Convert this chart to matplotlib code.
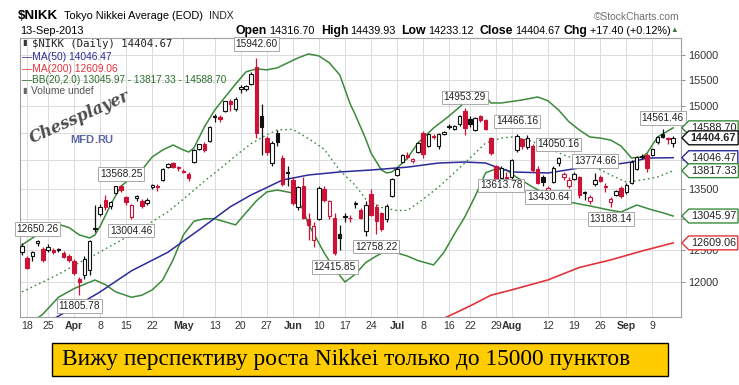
import numpy as np
import pandas as pd
import matplotlib
matplotlib.use("Agg")
import matplotlib.pyplot as plt
from matplotlib.path import Path
from matplotlib.patches import Rectangle
from matplotlib.ticker import FixedLocator, FixedFormatter, NullLocator

plt.rcParams["font.family"] = ["Liberation Sans", "DejaVu Sans"]

# --- data -------------------------------------------------------------------
# Tokyo trading days, Mar 15 .. Sep 13 2013 (exchange holidays left out)
holidays = ["2013-03-20", "2013-04-29", "2013-05-03", "2013-05-06", "2013-07-15"]
days = pd.bdate_range("2013-03-15", "2013-09-13", freq="C", holidays=holidays)

opens = [12460, 12370, 12400, 12600, 12510, 12490, 12490, 12500, 12450, 12400,
         12330, 12050, 12110, 12180, 12850, 13080, 13310, 13210, 13440, 13560,
         13360, 13030, 13340, 13290, 13260, 13540, 13560, 13650, 13880, 13950,
         13880, 13820, 13760, 13970, 14210, 14300, 14350, 14800, 14790, 14900,
         15100, 14950, 15320, 15330, 15430, 15750, 14800, 14400, 13950, 14500,
         14050, 13800, 13650, 13200, 13550, 13000, 12650, 13000, 13500, 13050,
         13020, 12750, 13050, 13020, 13260, 13150, 12800, 13420, 13200, 13090,
         12990, 13380, 13750, 13970, 14100, 13990, 14150, 14500, 14250, 14440,
         14250, 14480, 14620, 14560, 14650, 14900, 14750, 14550, 14800, 14740,
         14400, 13900, 13690, 13700, 13700, 14180, 14380, 14230, 14250, 13850,
         13700, 13480, 13620, 13950, 13700, 13550, 13680, 13700, 13450, 13300,
         13580, 13700, 13560, 13280, 13400, 13520, 13450, 13600, 13850, 14080,
         14100, 14100, 14320, 14480, 14400, 14316.70]
highs = [12600, 12400, 12480, 12650.26, 12540, 12590, 12520, 12520, 12480, 12430,
         12360, 12080, 12400, 12650, 13225, 13250, 13390, 13300, 13560, 13568.25,
         13380, 13240, 13400, 13330, 13350, 13590, 13580, 13860, 13950, 13970,
         13900, 13840, 13790, 14200, 14300, 14330, 14630, 14850, 14830, 15100,
         15130, 15160, 15400, 15400, 15650, 15942.60, 15030, 14440, 14350, 14550,
         14100, 13900, 13700, 13560, 13710, 13100, 12950, 13550, 13560, 13320,
         13100, 12900, 13100, 13060, 13300, 13180, 13300, 13500, 13240, 13120,
         13250, 13690, 13880, 14110, 14150, 14040, 14320, 14530, 14500, 14470,
         14490, 14530, 14650, 14640, 14820, 14953.29, 14800, 14790, 14820, 14760,
         14420, 13920, 13900, 13800, 14020, 14466.16, 14400, 14450, 14300, 13900,
         13750, 13560, 13900, 14050.16, 13800, 13700, 13800, 13720, 13470, 13400,
         13774.66, 13740, 13600, 13360, 13480, 13560, 13600, 14000, 14080, 14120,
         14130, 14220, 14430, 14561.46, 14420, 14439.93]
lows = [12420, 12200, 12330, 12560, 12300, 12460, 12440, 12460, 12370, 12300,
        12110, 11805.78, 12050, 12100, 12790, 13040, 13150, 13170, 13420, 13450,
        13230, 13004.46, 13300, 13180, 13230, 13500, 13470, 13630, 13860, 13860,
        13820, 13770, 13640, 13960, 14180, 14150, 14330, 14700, 14700, 14880,
        14900, 14900, 15250, 15280, 15400, 14400, 14100, 14100, 13900, 14250,
        13550, 13550, 13230, 13150, 13000, 12650, 12548, 12980, 13280, 13000,
        12415.85, 12500, 12950, 12950, 13180, 12990, 12720, 13040, 12758.22, 12800,
        12940, 13360, 13720, 13950, 14020, 13960, 14130, 14050, 14230, 14380,
        14200, 14460, 14560, 14540, 14630, 14450, 14600, 14530, 14700, 14540,
        14100, 13650, 13613.78, 13640, 13680, 14150, 14200, 14200, 13800, 13580,
        13550, 13430.64, 13600, 13900, 13650, 13520, 13650, 13350, 13320, 13250,
        13560, 13620, 13450, 13188.14, 13380, 13350, 13420, 13580, 13830, 14020,
        13800, 14080, 14300, 14400, 14300, 14233.12]
closes = [12561, 12221, 12468, 12636, 12339, 12546, 12472, 12494, 12390, 12336,
          12135, 12003, 12362, 12635, 12834, 13193, 13192, 13288, 13549, 13485,
          13276, 13221, 13383, 13220, 13316, 13568, 13530, 13843, 13926, 13884,
          13861, 13799, 13694, 14180, 14286, 14191, 14608, 14782, 14758, 15096,
          15037, 15138, 15361, 15381, 15627, 14484, 14612, 14143, 14312, 14326,
          13589, 13775, 13262, 13534, 13015, 12904, 12877, 13514, 13318, 13289,
          12445, 12686, 13033, 13007, 13245, 13015, 13230, 13063, 12969, 12834,
          13214, 13677, 13852, 14099, 14055, 14019, 14310, 14109, 14473, 14417,
          14473, 14506, 14599, 14615, 14808, 14590, 14658, 14779, 14731, 14563,
          14130, 13661, 13870, 13668, 14006, 14440, 14258, 14401, 13825, 13606,
          13615, 13519, 13869, 14040, 13753, 13650, 13758, 13396, 13424, 13365,
          13661, 13636, 13542, 13338, 13459, 13389, 13573, 13978, 14054, 14065,
          13861, 14205, 14423, 14425, 14387, 14404.67]

# Bollinger bands (20,2.0)
bb_up_dates = ["03-15", "03-19", "03-25", "03-27", "03-29", "04-02", "04-04", "04-05",
               "04-08", "04-10", "04-12", "04-16", "04-18", "04-22", "04-24", "04-26",
               "05-01", "05-02", "05-07", "05-09", "05-13", "05-15", "05-17", "05-21",
               "05-23", "05-27", "05-29", "05-31", "06-04", "06-06", "06-10", "06-12",
               "06-14", "06-18", "06-19", "06-21", "06-24", "06-26", "06-27", "06-28",
               "07-01", "07-03", "07-05", "07-10", "07-16", "07-18", "07-22", "07-24",
               "07-25", "07-26", "07-30", "08-05", "08-08", "08-12", "08-14", "08-16",
               "08-20", "08-22", "08-26", "08-28", "08-30", "09-03", "09-05", "09-06",
               "09-10", "09-13"]
bb_up_vals = [12576, 12688, 12858, 12908, 12858, 12737, 12688, 12737,
              12878, 13229, 13550, 13690, 13829, 14060, 14184, 14274,
              14184, 14148, 14220, 14603, 14921, 15170, 15420, 15660,
              15720, 15700, 15740, 15840, 15940, 16020, 15980, 15840,
              15600, 15035, 14827, 14380, 14130, 13829, 13777, 13795,
              13865, 14040, 14310, 14585, 14810, 14978, 15170, 15226,
              15190, 15055, 15055, 15112, 15170, 15095, 14921, 14700,
              14548, 14420, 14400, 14364, 14256, 14040, 14058, 14130,
              14420, 14588.70]
bb_mid_dates = ["03-15", "03-22", "03-28", "04-02", "04-05", "04-10", "04-16", "04-19",
                "04-25", "05-01", "05-09", "05-14", "05-17", "05-22", "05-27", "05-29",
                "06-03", "06-06", "06-11", "06-14", "06-19", "06-21", "06-26", "07-01",
                "07-03", "07-05", "07-11", "07-19", "07-25", "07-30", "08-01", "08-06",
                "08-12", "08-15", "08-20", "08-23", "08-28", "09-02", "09-05", "09-10",
                "09-13"]
bb_mid_vals = [11850, 12000, 12160, 12300, 12420, 12560, 12742, 12900,
               13115, 13330, 13635, 13850, 14080, 14300, 14460, 14550,
               14560, 14390, 14200, 13823, 13560, 13326, 13190, 13136,
               13140, 13260, 13535, 13952, 14310, 14400, 14420, 14370,
               14220, 14094, 14005, 13882, 13742, 13620, 13655, 13707,
               13817.33]
bb_lo_dates = ["03-15", "03-22", "03-27", "04-01", "04-05", "04-09", "04-11", "04-16",
               "04-18", "04-22", "04-24", "04-26", "05-01", "05-07", "05-09", "05-13",
               "05-15", "05-17", "05-21", "05-23", "05-27", "05-29", "06-03", "06-05",
               "06-06", "06-07", "06-11", "06-13", "06-17", "06-19", "06-21", "06-25",
               "06-27", "07-01", "07-03", "07-05", "07-10", "07-12", "07-17", "07-19",
               "07-23", "07-25", "07-29", "07-31", "08-02", "08-07", "08-12", "08-14",
               "08-19", "08-23", "08-28", "08-30", "09-04", "09-09", "09-11", "09-13"]
bb_lo_vals = [11300, 11520, 11770, 11900, 12030, 11960, 11850, 11770,
              11800, 11880, 12030, 12340, 12740, 12960, 13000, 13000,
              12950, 12900, 13100, 13300, 13450, 13483, 13432, 13146,
              12900, 12760, 12450, 12200, 12000, 12120, 12300, 12400,
              12490, 12450, 12400, 12330, 12262, 12460, 12750, 13030,
              13380, 13780, 13850, 13829, 13700, 13535, 13390, 13313,
              13263, 13196, 13140, 13113, 13229, 13146, 13100, 13045.97]

ma50_dates = ["03-26", "04-01", "04-08", "04-16", "04-25", "05-08", "05-16", "05-22",
              "05-24", "05-30", "06-06", "06-14", "06-24", "07-03", "07-11", "07-19",
              "07-25", "07-29", "08-01", "08-12", "08-20", "08-28", "09-03", "09-06",
              "09-13"]
ma50_vals = [11450, 11620, 11850, 12170, 12460, 12820, 13200, 13400,
             13483, 13655, 13742, 13795, 13829, 13880, 13952, 13970,
             13952, 13882, 13795, 13777, 13865, 13917, 13970, 14040,
             14046.47]
ma200_dates = ["07-12", "07-22", "07-26", "08-01", "08-12", "08-20", "08-28", "09-05",
               "09-13"]
ma200_vals = [11460, 11640, 11800, 11880, 12032, 12223, 12340, 12480, 12609.06]

# labelled swing highs / lows
hl_dates = ["03-21", "04-12", "04-02", "04-16", "05-23", "06-13", "06-25", "07-19",
            "07-30", "08-02", "08-12", "08-14", "08-23", "08-28", "09-11"]
hl_vals = [12650.26, 13568.25, 11805.78, 13004.46, 15942.60, 12415.85, 12758.22,
           14953.29, 13613.78, 14466.16, 13430.64, 14050.16, 13774.66, 13188.14,
           14561.46]

tick_dates = ["03-18", "03-25", "04-01", "04-08", "04-15", "04-22", "05-01", "05-13",
              "05-20", "05-27", "06-03", "06-10", "06-17", "06-24", "07-01", "07-08",
              "07-16", "07-22", "07-29", "08-01", "08-12", "08-19", "08-26", "09-02",
              "09-09"]
tick_labels = ["18", "25", "Apr", "8", "15", "22", "May", "13", "20", "27", "Jun", "10",
               "17", "24", "Jul", "8", "16", "22", "29", "Aug", "12", "19", "26", "Sep",
               "9"]
y_ticks = [12000, 12500, 13000, 13500, 14000, 14500, 15000, 15500, 16000]
# the ones hidden behind the value tags in the original carry no label
y_tick_labels = ["12000", "12500", "", "13500", "", "", "15000", "15500", "16000"]

caption = "Вижу перспективу роста Nikkei только до 15000 пунктов"

# --- layout / style ---------------------------------------------------------
W, H = 739, 385
RED = "#cc1236"
GREEN = "#3b8a3b"
BLUE = "#2b2b9c"
MA200_RED = "#e3343c"
# label offset from the point, in pixels (+ up, - down)
label_dy = [11, 11, -11, -12, 14, -12, -13, 11, -3, 13, -4, 13, 12, -11.5, 11]


def to_pos(md):
    idx = days.get_indexer(pd.to_datetime(["2013-" + d for d in md]))
    assert (idx >= 0).all(), md
    return idx


fig = plt.figure(figsize=(W / 100, H / 100), dpi=100)
fig.patch.set_facecolor("white")
ax = fig.add_axes([20 / W, 1 - 317 / H, 661 / W, 279 / H])
ax.set_yscale("log")
ax.set_xlim(-0.38, 126.5)
ax.set_ylim(11479, 16347)

# candles
x = np.arange(len(days))
o, h, l, c = (np.asarray(v, float) for v in (opens, highs, lows, closes))
prev = np.r_[c[0] - 1, c[:-1]]
edge = np.where(c < prev, RED, "#111111")
face = np.where(c >= o, "white", edge)
ax.vlines(x, l, h, colors=edge, lw=0.9, zorder=4)
bot = np.minimum(o, c)
ht = np.maximum(np.abs(c - o), bot * 0.0009)
ax.bar(x, ht, bottom=bot, width=0.66, color=face, edgecolor=edge,
       linewidth=0.8, zorder=5)

# indicators
ax.plot(to_pos(bb_up_dates), bb_up_vals, color=GREEN, lw=1.1, zorder=3)
ax.plot(to_pos(bb_lo_dates), bb_lo_vals, color=GREEN, lw=1.1, zorder=3)
ax.plot(to_pos(bb_mid_dates), bb_mid_vals, color=GREEN, lw=1.0,
        ls=(0, (1.2, 2.2)), zorder=3)
ax.plot(to_pos(ma50_dates), ma50_vals, color=BLUE, lw=1.1, zorder=3)
ax.plot(to_pos(ma200_dates), ma200_vals, color=MA200_RED, lw=1.2, zorder=3)

# axes cosmetics
ax.set_xticks(to_pos(tick_dates))
ax.set_xticklabels(tick_labels)
for lab, s in zip(ax.get_xticklabels(), tick_labels):
    if s.isalpha():
        lab.set_fontweight("bold")
        lab.set_fontsize(8.2)
ax.tick_params(axis="x", length=0, pad=3, labelsize=7.6, labelcolor="#333333")
ax.yaxis.tick_right()
ax.yaxis.set_major_locator(FixedLocator(y_ticks))
ax.yaxis.set_major_formatter(FixedFormatter(y_tick_labels))
ax.yaxis.set_minor_locator(NullLocator())
ax.tick_params(axis="y", length=3, pad=2, labelsize=7.8, labelcolor="#333333",
               color="#999999")
ax.set_axisbelow(True)
ax.grid(True, color="#dcdcdc", lw=0.7)
for sp in ax.spines.values():
    sp.set_color("#a0a0a0")
    sp.set_linewidth(0.8)

# high / low labels
for d, v, dy in zip(hl_dates, hl_vals, label_dy):
    ax.annotate(f"{v:.2f}", xy=(to_pos([d])[0], v), xytext=(0, dy * 0.72),
                textcoords="offset points", ha="center", va="center",
                fontsize=7.3, color="#222222", zorder=8,
                bbox=dict(boxstyle="square,pad=0.18", fc="white", ec="#9a9a9a", lw=0.6))


# value tags on the right edge
def tag_box(x0, y0, width, height, mutation_size):
    pad = 0.18 * mutation_size
    x0, y0 = x0 - pad, y0 - pad
    x1, y1 = x0 + width + 2 * pad, y0 + height + 2 * pad
    tip = (y1 - y0) / 2
    verts = [(x0, y0), (x1, y0), (x1, y1), (x0, y1), (x0 - tip, y0 + tip), (x0, y0)]
    return Path(verts, closed=True)


tags = [(bb_up_vals[-1], GREEN, "normal"), (closes[-1], "#111111", "bold"),
        (ma50_vals[-1], BLUE, "normal"), (bb_mid_vals[-1], GREEN, "normal"),
        (bb_lo_vals[-1], GREEN, "normal"), (ma200_vals[-1], MA200_RED, "normal")]
for v, col, wt in tags:
    ax.annotate(f"{v:.2f}", xy=(1, v), xycoords=ax.get_yaxis_transform(),
                xytext=(7, 0), textcoords="offset points", ha="left", va="center",
                fontsize=7.8, fontweight=wt, color="#222222", zorder=10,
                annotation_clip=False,
                bbox=dict(boxstyle=tag_box, fc="white", ec=col, lw=1.0))


# --- texts ------------------------------------------------------------------
def ftext(px, py, s, **kw):
    kw.setdefault("va", "center")
    return fig.text(px / W, 1 - py / H, s, **kw)


def row(px, py, pieces, align="left"):
    r = fig.canvas.get_renderer()
    seq = pieces if align == "left" else list(reversed(pieces))
    for s, kw, gap in seq:
        t = ftext(px, py, s, ha=align, **kw)
        w = t.get_window_extent(r).width
        px = px + w + gap if align == "left" else px - w - gap


row(18, 16, [("$NIKK", dict(fontsize=9.6, fontweight="bold"), 6),
             ("Tokyo Nikkei Average (EOD)", dict(fontsize=7.9), 6),
             ("INDX", dict(fontsize=7.4, color="#222222"), 0)])
ftext(680, 17, "©StockCharts.com", ha="right", fontsize=7.4, color="#707070")
ftext(20, 31, "13-Sep-2013", fontsize=7.9)

lab = dict(fontsize=8.8, fontweight="bold")
val = dict(fontsize=7.8)
row(678, 31, [("Open", lab, 6), ("14316.70", val, 2),
              ("High", lab, 6), ("14439.93", val, 2),
              ("Low", lab, 6), ("14233.12", val, 2),
              ("Close", lab, 6), ("14404.67", val, 2),
              ("Chg", lab, 4), ("+17.40 (+0.12%)", val, 2),
              ("▲", dict(fontsize=5.5, color="#3a7a3a"), 0)], align="right")

ftext(32, 44, "$NIKK (Daily) 14404.67", fontsize=7.7, color="#222222",
      family="DejaVu Sans Mono")
ftext(22, 44, "▮", fontsize=6, color="#333333")
ftext(22, 57, "—MA(50) 14046.47", fontsize=7.4, color=BLUE)
ftext(22, 69, "—MA(200) 12609.06", fontsize=7.4, color=MA200_RED)
ftext(22, 80, "—BB(20,2.0) 13045.97 - 13817.33 - 14588.70", fontsize=7.2, color="#2d6e2d")
ftext(22, 91, "▮", fontsize=6, color="#666666")
ftext(31, 91, "Volume undef", fontsize=7.4, color="#555555")

# watermark
ftext(80, 117, "Chessplayer", ha="center", fontsize=11.5, fontweight="bold",
      style="italic", color="#4c4c4c", rotation=24, family="DejaVu Serif")
row(70, 140, [("MFD", dict(fontsize=8, fontweight="bold", color="#5b67a8"), 0),
              (".", dict(fontsize=8, fontweight="bold", color="#d03030"), 0),
              ("RU", dict(fontsize=8, fontweight="bold", color="#5b67a8"), 0)])

# caption
fig.patches.append(Rectangle((52 / W, 1 - 376 / H), 616 / W, 33 / H,
                             transform=fig.transFigure, fc="#FFCC00",
                             ec="black", lw=1.0))
ftext(62, 359, caption, fontsize=16.8, family="Liberation Serif", color="black")

fig.savefig("out.png", dpi=100, facecolor="white")
